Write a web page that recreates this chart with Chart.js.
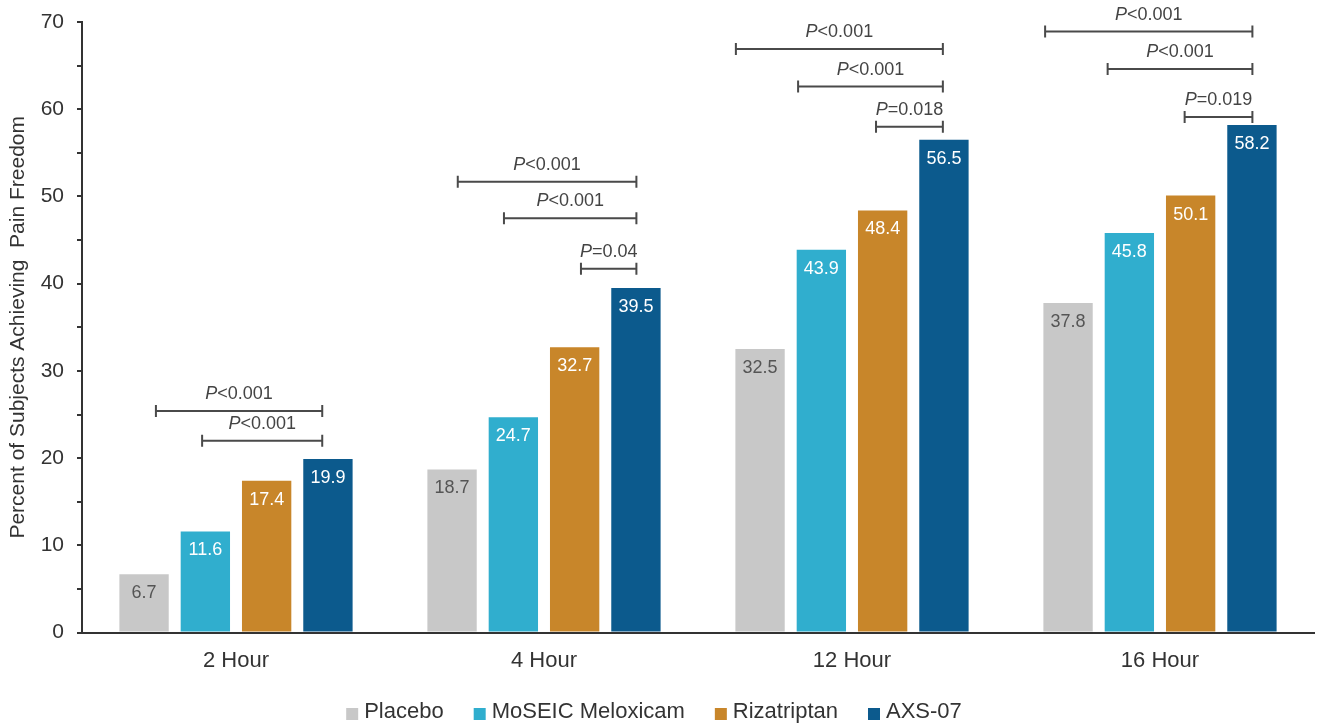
<!DOCTYPE html>
<html>
<head>
<meta charset="utf-8">
<script src="https://cdn.jsdelivr.net/npm/chart.js@4/dist/chart.umd.min.js"></script>
<style>
html,body{margin:0;padding:0;background:#fff;}
#wrap{width:1320px;height:726px;position:relative;}
</style>
</head>
<body>
<div id="wrap"><canvas id="c" width="1320" height="726"></canvas></div>
<script>
const categories = ['2 Hour', '4 Hour', '12 Hour', '16 Hour'];
const seriesNames = ['Placebo', 'MoSEIC Meloxicam', 'Rizatriptan', 'AXS-07'];
const placebo = [6.7, 18.7, 32.5, 37.8];
const moseic = [11.6, 24.7, 43.9, 45.8];
const rizatriptan = [17.4, 32.7, 48.4, 50.1];
const axs07 = [19.9, 39.5, 56.5, 58.2];
const seriesColors = ['#c8c8c8', '#30aece', '#c8862a', '#0c5a8d'];
const labelColors = ['#555555', '#ffffff', '#ffffff', '#ffffff'];

// p-value brackets: category, y level, start/end offset (fraction of category width from its centre), label
const bracketCategory = [0, 0, 1, 1, 1, 2, 2, 2, 3, 3, 3];
const bracketLevel = [25.4, 22.0, 51.7, 47.5, 41.7, 66.9, 62.6, 58.0, 68.9, 64.6, 59.1];
const bracketStart = [-0.26, -0.11, -0.28, -0.13, 0.12, -0.377, -0.175, 0.078, -0.373, -0.17, 0.08];
const bracketEnd = [0.28, 0.28, 0.30, 0.30, 0.30, 0.295, 0.295, 0.295, 0.30, 0.30, 0.30];
const bracketText = ['<0.001', '<0.001', '<0.001', '<0.001', '=0.04', '<0.001', '<0.001', '=0.018', '<0.001', '<0.001', '=0.019'];

const FONT = '"Liberation Sans", Arial, sans-serif';

const valueLabels = {
  id: 'valueLabels',
  afterDatasetsDraw(chart) {
    const ctx = chart.ctx;
    ctx.save();
    ctx.font = '18px ' + FONT;
    ctx.textAlign = 'center';
    ctx.textBaseline = 'middle';
    chart.data.datasets.forEach((ds, di) => {
      const meta = chart.getDatasetMeta(di);
      meta.data.forEach((bar, i) => {
        ctx.fillStyle = labelColors[di];
        ctx.fillText(ds.data[i].toFixed(1), bar.x, bar.y + 19);
      });
    });
    ctx.restore();
  }
};

const brackets = {
  id: 'brackets',
  afterDatasetsDraw(chart) {
    const ctx = chart.ctx;
    const xs = chart.scales.x, ys = chart.scales.y;
    const cw = (xs.right - xs.left) / categories.length;
    ctx.save();
    ctx.strokeStyle = '#4a4a4a';
    ctx.lineWidth = 2;
    for (let k = 0; k < bracketCategory.length; k++) {
      const cx = xs.getPixelForValue(bracketCategory[k]);
      const x1 = cx + bracketStart[k] * cw;
      const x2 = cx + bracketEnd[k] * cw;
      const y = ys.getPixelForValue(bracketLevel[k]);
      ctx.beginPath();
      ctx.moveTo(x1, y); ctx.lineTo(x2, y);
      ctx.moveTo(x1, y - 6); ctx.lineTo(x1, y + 6);
      ctx.moveTo(x2, y - 6); ctx.lineTo(x2, y + 6);
      ctx.stroke();
      const italic = 'italic 18px ' + FONT, normal = '18px ' + FONT;
      ctx.font = italic; const wP = ctx.measureText('P').width;
      ctx.font = normal; const wR = ctx.measureText(bracketText[k]).width;
      const total = wP + wR;
      const sx = (x1 + x2) / 2 - total / 2;
      const ty = y - 17;
      ctx.fillStyle = '#444444';
      ctx.textBaseline = 'middle';
      ctx.textAlign = 'left';
      ctx.font = italic; ctx.fillText('P', sx, ty);
      ctx.font = normal; ctx.fillText(bracketText[k], sx + wP, ty);
    }
    ctx.restore();
  }
};

// legend drawn from the dataset names/colours
const bottomLegend = {
  id: 'bottomLegend',
  afterDraw(chart) {
    const ctx = chart.ctx;
    const box = 12, gapBoxText = 6, gapItems = 30;
    ctx.save();
    ctx.font = '22px ' + FONT;
    const items = chart.data.datasets.map(ds => ({ text: ds.label, color: ds.backgroundColor, w: ctx.measureText(ds.label).width }));
    const total = items.reduce((s, it) => s + box + gapBoxText + it.w, 0) + gapItems * (items.length - 1);
    let x = chart.width / 2 - 6 - total / 2;
    const y = 711;
    ctx.textBaseline = 'middle';
    ctx.textAlign = 'left';
    items.forEach(it => {
      ctx.fillStyle = it.color;
      ctx.fillRect(x, y + 3 - box / 2, box, box);
      x += box + gapBoxText;
      ctx.fillStyle = '#333333';
      ctx.fillText(it.text, x, y + 1);
      x += it.w + gapItems;
    });
    ctx.restore();
  }
};

const seriesData = [placebo, moseic, rizatriptan, axs07];

new Chart(document.getElementById('c'), {
  type: 'bar',
  data: {
    labels: categories,
    datasets: seriesNames.map((n, i) => ({
      label: n,
      data: seriesData[i],
      backgroundColor: seriesColors[i],
      borderWidth: 0,
      categoryPercentage: 0.796,
      barPercentage: 0.805
    }))
  },
  options: {
    responsive: false,
    animation: false,
    layout: { padding: { top: 22, right: 6, left: 0, bottom: 45 } },
    plugins: {
      tooltip: { enabled: false },
      legend: { display: false }
    },
    scales: {
      x: {
        grid: { display: false },
        border: { display: true, color: '#333333', width: 2 },
        ticks: { color: '#333333', font: { family: FONT, size: 22 }, padding: 7 }
      },
      y: {
        min: 0, max: 70,
        afterFit: s => { s.width = 82; s.paddingTop = 0; },
        grid: { drawOnChartArea: false, drawTicks: true, tickLength: 5, color: '#333333', lineWidth: 2 },
        border: { display: true, color: '#333333', width: 2 },
        ticks: {
          stepSize: 5,
          color: '#333333',
          font: { family: FONT, size: 21 },
          padding: 13,
          callback: v => (v % 10 === 0 ? String(v) : '')
        },
        title: {
          display: true,
          text: 'Percent of Subjects Achieving  Pain Freedom',
          color: '#333333',
          font: { family: FONT, size: 21 },
          padding: { top: 6, bottom: 4 }
        }
      }
    }
  },
  plugins: [valueLabels, brackets, bottomLegend]
});
</script>
</body>
</html>
